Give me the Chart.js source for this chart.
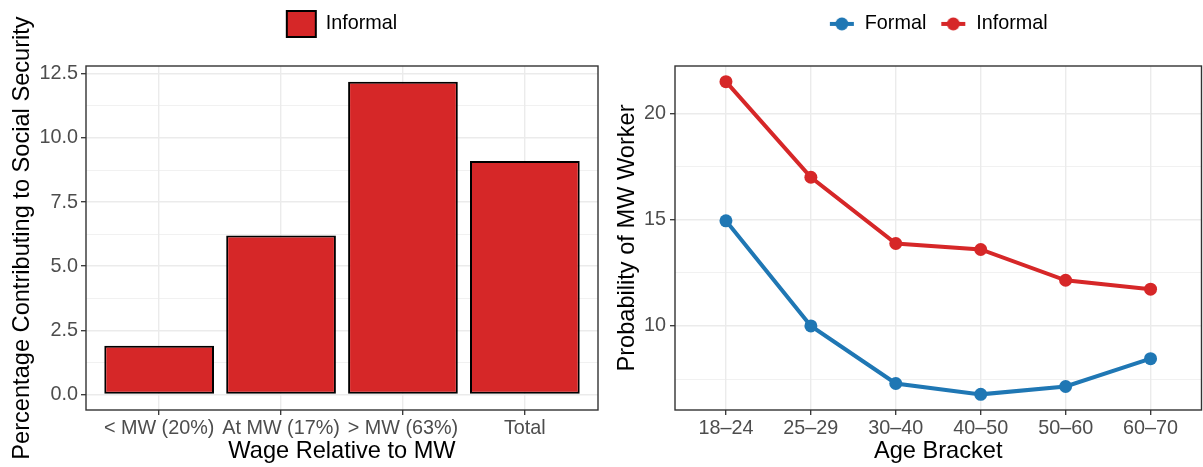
<!DOCTYPE html>
<html>
<head>
<meta charset="utf-8">
<title>Informal sector: social security and minimum wage</title>
<script src="https://cdn.jsdelivr.net/npm/chart.js@4.4.1/dist/chart.umd.min.js"></script>
<style>
  html, body { margin: 0; padding: 0; background: #fff; }
  #wrap { position: relative; width: 1203px; height: 467px; overflow: hidden; }
  #barChart { position: absolute; left: 0; top: 0; }
  #lineChart { position: absolute; left: 600px; top: 0; }
</style>
</head>
<body>
<div id="wrap">
  <canvas id="barChart" width="600" height="467"></canvas>
  <!-- a little wider than the page: the point overflow margin falls outside -->
  <canvas id="lineChart" width="608" height="467"></canvas>
</div>
<script>
// left panel: share of informal workers contributing, by wage group
const wageGroups = ['< MW (20%)', 'At MW (17%)', '> MW (63%)', 'Total'];
const informalContrib = [1.9, 6.2, 12.2, 9.1];
const contribTicks = [0, 2.5, 5, 7.5, 10, 12.5];
const contribMinor = [1.25, 3.75, 6.25, 8.75, 11.25];

// right panel: probability of earning the MW, by age bracket
const ageBrackets = ['18–24', '25–29', '30–40', '40–50', '50–60', '60–70'];
const formalProb = [14.95, 10.0, 7.29, 6.78, 7.15, 8.46];
const informalProb = [21.5, 17.0, 13.88, 13.6, 12.15, 11.73];
const probTicks = [10, 15, 20];
const probMinor = [7.5, 12.5, 17.5];

const RED = '#D62728';
const BLUE = '#1F77B4';
const FONT = "'Liberation Sans', Arial, Helvetica, sans-serif";
const TICK_SIZE = 19.8;
const TITLE_SIZE = 23.6;

Chart.defaults.font.family = FONT;
Chart.defaults.animation = false;

// ggplot-like 5% padding around the data range
function padRange(values, includeZero) {
  let lo = Math.min(...values), hi = Math.max(...values);
  if (includeZero) lo = Math.min(lo, 0);
  const pad = (hi - lo) * 0.05;
  return { min: lo - pad, max: hi + pad };
}

function isMinor(list, ctx) {
  return !!(ctx.tick && list.includes(ctx.tick.value));
}

function yGrid(minor) {
  return {
    color: '#EBEBEB',
    lineWidth: ctx => isMinor(minor, ctx) ? 0.7 : 1.4,
    tickColor: ctx => isMinor(minor, ctx) ? 'rgba(0,0,0,0)' : '#333333',
    tickWidth: 1.3,
    tickLength: 5,
    drawTicks: true
  };
}

const xGrid = {
  color: '#EBEBEB',
  lineWidth: 1.4,
  tickColor: '#333333',
  tickWidth: 1.3,
  tickLength: 5,
  offset: false
};

const tickFont = { family: FONT, size: TICK_SIZE };

// fixed legend band above the panel
const legendBand = {
  id: 'legendBand',
  beforeInit(chart) {
    const fit = chart.legend.fit;
    chart.legend.fit = function () {
      fit.call(this);
      this.height = 66;
    };
  }
};

// dark frame around the plotting area
const panelBorder = {
  id: 'panelBorder',
  afterDatasetsDraw(chart) {
    const { ctx, chartArea: a } = chart;
    ctx.save();
    ctx.strokeStyle = '#333333';
    ctx.lineWidth = 1.4;
    ctx.strokeRect(a.left, a.top, a.right - a.left, a.bottom - a.top);
    ctx.restore();
  }
};

// rotated y-axis title, centred on the panel (not squeezed to its height)
const yTitle = {
  id: 'yTitle',
  afterDraw(chart, args, opts) {
    const { ctx, chartArea: a } = chart;
    ctx.save();
    ctx.translate(opts.x, (a.top + a.bottom) / 2);
    ctx.rotate(-Math.PI / 2);
    ctx.font = `${TITLE_SIZE}px ${FONT}`;
    ctx.fillStyle = '#000';
    ctx.textAlign = 'center';
    ctx.textBaseline = 'middle';
    ctx.fillText(opts.text, 0, 0);
    ctx.restore();
  }
};

// line-with-dot key used by the right legend
function lineKey(color) {
  const c = document.createElement('canvas');
  c.width = 26; c.height = 14;
  const g = c.getContext('2d');
  g.strokeStyle = color;
  g.lineWidth = 4;
  g.beginPath(); g.moveTo(1, 7); g.lineTo(25, 7); g.stroke();
  g.fillStyle = color;
  g.beginPath(); g.arc(13, 7, 6.5, 0, Math.PI * 2); g.fill();
  return c;
}

const contribRange = padRange(informalContrib, true);

new Chart(document.getElementById('barChart'), {
  type: 'bar',
  data: {
    datasets: [{
      label: 'Informal',
      data: informalContrib.map((v, i) => ({ x: i, y: v })),
      backgroundColor: RED,
      borderColor: '#000',
      borderWidth: 2,
      borderSkipped: false,
      categoryPercentage: 1,
      barPercentage: 0.9
    }]
  },
  options: {
    responsive: false,
    layout: { padding: { top: 0, right: 2, bottom: 0, left: 0 } },
    plugins: {
      tooltip: { enabled: false },
      legend: {
        position: 'top',
        fullSize: false,
        labels: {
          boxWidth: 29,
          boxHeight: 26,
          padding: 11,
          color: '#000',
          font: { family: FONT, size: TICK_SIZE }
        }
      },
      yTitle: { text: 'Percentage Contributing to Social Security', x: 22 }
    },
    scales: {
      x: {
        type: 'linear',
        min: -0.6,
        max: wageGroups.length - 0.4,
        offset: false,
        grid: xGrid,
        border: { display: false },
        afterBuildTicks: s => { s.ticks = wageGroups.map((_, i) => ({ value: i })); },
        afterFit: s => { s.height = 57; },
        ticks: {
          autoSkip: false,
          maxRotation: 0,
          padding: 2,
          color: '#4D4D4D',
          font: tickFont,
          callback: v => wageGroups[v]
        },
        title: {
          display: true,
          text: 'Wage Relative to MW',
          color: '#000',
          font: { family: FONT, size: TITLE_SIZE },
          padding: { top: 0, bottom: 1 }
        }
      },
      y: {
        min: contribRange.min,
        max: contribRange.max,
        grid: yGrid(contribMinor),
        border: { display: false },
        afterBuildTicks: s => {
          s.ticks = [...contribTicks, ...contribMinor].sort((a, b) => a - b).map(v => ({ value: v }));
        },
        afterFit: s => { s.width = 86; },
        ticks: {
          autoSkip: false,
          padding: 3,
          color: '#4D4D4D',
          font: tickFont,
          callback: v => contribMinor.includes(v) ? '' : v.toFixed(1)
        }
      }
    }
  },
  plugins: [legendBand, panelBorder, yTitle]
});

const probRange = padRange(formalProb.concat(informalProb), false);

const lineStyle = {
  borderWidth: 4,
  pointRadius: 6.5,
  pointHoverRadius: 6.5,
  pointBorderWidth: 0,
  tension: 0
};

new Chart(document.getElementById('lineChart'), {
  type: 'line',
  data: {
    datasets: [
      Object.assign({
        label: 'Formal',
        data: formalProb.map((v, i) => ({ x: i, y: v })),
        borderColor: BLUE,
        backgroundColor: BLUE
      }, lineStyle),
      Object.assign({
        label: 'Informal',
        data: informalProb.map((v, i) => ({ x: i, y: v })),
        borderColor: RED,
        backgroundColor: RED
      }, lineStyle)
    ]
  },
  options: {
    responsive: false,
    layout: { padding: 0 },
    plugins: {
      tooltip: { enabled: false },
      legend: {
        position: 'top',
        fullSize: false,
        labels: {
          usePointStyle: true,
          pointStyleWidth: 26,
          boxWidth: 26,
          padding: 14,
          color: '#000',
          font: { family: FONT, size: TICK_SIZE },
          generateLabels: chart => chart.data.datasets.map((ds, i) => ({
            text: ds.label,
            pointStyle: lineKey(ds.borderColor),
            fillStyle: ds.borderColor,
            strokeStyle: ds.borderColor,
            lineWidth: 0,
            fontColor: '#000',
            hidden: false,
            datasetIndex: i
          }))
        }
      },
      yTitle: { text: 'Probability of MW Worker', x: 27 }
    },
    scales: {
      x: {
        type: 'linear',
        min: -0.6,
        max: ageBrackets.length - 0.4,
        offset: false,
        grid: xGrid,
        border: { display: false },
        afterBuildTicks: s => { s.ticks = ageBrackets.map((_, i) => ({ value: i })); },
        afterFit: s => { s.height = 57; },
        ticks: {
          autoSkip: false,
          maxRotation: 0,
          padding: 2,
          color: '#4D4D4D',
          font: tickFont,
          callback: v => ageBrackets[v]
        },
        title: {
          display: true,
          text: 'Age Bracket',
          color: '#000',
          font: { family: FONT, size: TITLE_SIZE },
          padding: { top: 0, bottom: 1 }
        }
      },
      y: {
        min: probRange.min,
        max: probRange.max,
        grid: yGrid(probMinor),
        border: { display: false },
        afterBuildTicks: s => {
          s.ticks = [...probTicks, ...probMinor].sort((a, b) => a - b).map(v => ({ value: v }));
        },
        afterFit: s => { s.width = 75; },
        ticks: {
          autoSkip: false,
          padding: 4,
          color: '#4D4D4D',
          font: tickFont,
          callback: v => probMinor.includes(v) ? '' : String(v)
        }
      }
    }
  },
  plugins: [legendBand, panelBorder, yTitle]
});
</script>
</body>
</html>
